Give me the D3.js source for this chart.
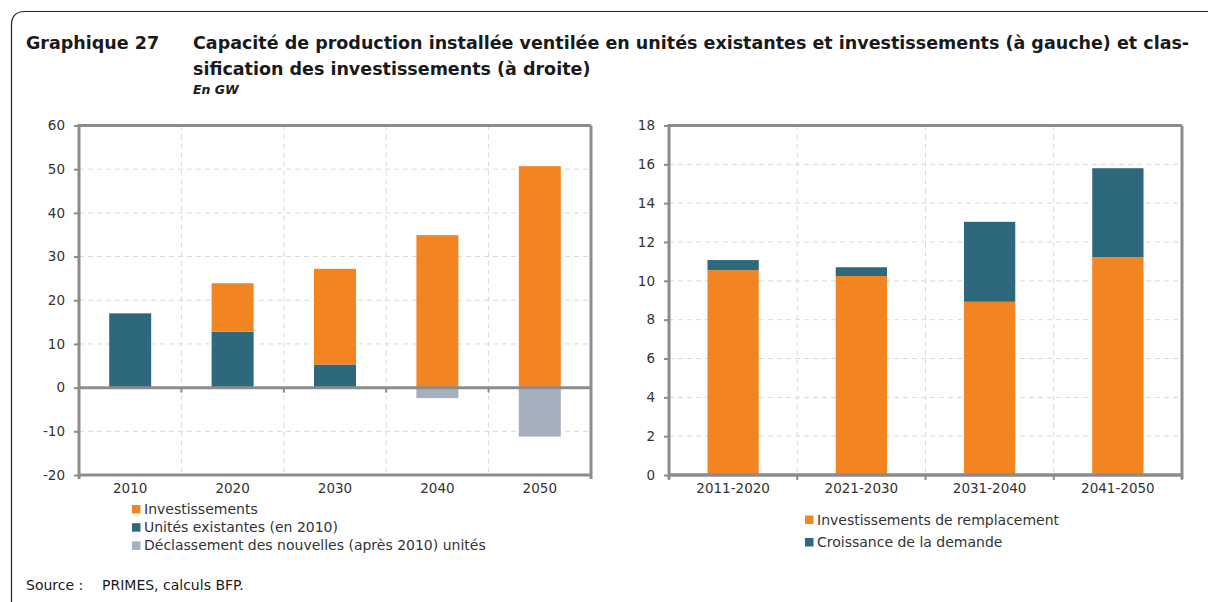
<!DOCTYPE html>
<html><head><meta charset="utf-8">
<script src="https://cdn.jsdelivr.net/npm/d3@7"></script>
<style>
html,body{margin:0;padding:0;background:#fff;}
svg{display:block;font-family:"DejaVu Sans",sans-serif;}
</style></head>
<body>
<svg id="c" width="1208" height="602"></svg>
<script>
// ---- Data ----
const leftCategories = ["2010","2020","2030","2040","2050"];
const leftInvest = [0, 11.1, 21.9, 34.9, 50.7];
const leftExisting = [17.0, 12.8, 5.3, 0, 0];
const leftDecom = [0, 0, 0, -2.4, -11.2];
const leftTicks = [-20,-10,0,10,20,30,40,50,60];
const leftLegend = ["Investissements","Unités existantes (en 2010)","Déclassement des nouvelles (après 2010) unités"];

const rightCategories = ["2011-2020","2021-2030","2031-2040","2041-2050"];
const rightReplacement = [10.55, 10.25, 8.92, 11.22];
const rightDemand = [0.52, 0.45, 4.12, 4.58];
const rightTicks = [0,2,4,6,8,10,12,14,16,18];
const rightLegend = ["Investissements de remplacement","Croissance de la demande"];

const titleLabel = "Graphique 27";
const titleLines = ["Capacité de production installée ventilée en unités existantes et investissements (à gauche) et clas-","sification des investissements (à droite)"];
const subtitle = "En GW";
const sourceLabel = "Source :";
const sourceText = "PRIMES, calculs BFP.";

// ---- Styles ----
const ORANGE = "#F28522", TEAL = "#2E687D", GREYBLUE = "#A5AFBD";
const AXIS = "#8C8C8C", GRID = "#D9D9D9", TXT = "#333333";
const FONT = "'DejaVu Sans',sans-serif";

const svg = d3.select("#c");

// frame
svg.append("path")
  .attr("d", "M11.5,602 L11.5,25 Q11.5,11.5 25,11.5 L1208,11.5")
  .attr("fill","none").attr("stroke","#222").attr("stroke-width",1.2);

// titles
svg.append("text").attr("x",26).attr("y",49).attr("font-weight","bold")
  .attr("font-size",17.5).attr("fill","#1a1a1a").text(titleLabel);
titleLines.forEach((t,i)=>{
  svg.append("text").attr("x",193).attr("y",49+ i*26).attr("font-weight","bold")
    .attr("font-size",17.5).attr("fill","#1a1a1a").text(t);
});
svg.append("text").attr("x",193).attr("y",94).attr("font-weight","bold").attr("font-style","italic")
  .attr("font-size",12.5).attr("fill","#1a1a1a").text(subtitle);

svg.append("text").attr("x",26).attr("y",590).attr("font-size",14).attr("fill","#1a1a1a").text(sourceLabel);
svg.append("text").attr("x",102).attr("y",590).attr("font-size",14).attr("fill","#1a1a1a").text(sourceText);

function drawPanel(opt){
  const g = svg.append("g");
  const x = d3.scaleBand().domain(opt.categories).range([opt.x0,opt.x1]).paddingInner(0).paddingOuter(0);
  const y = d3.scaleLinear().domain(opt.domain).range([opt.y1,opt.y0]);
  const bw = x.bandwidth()*opt.barFrac;

  // horizontal grid
  g.selectAll(".hg").data(opt.ticks.filter(t=>t!==opt.domain[0] && t!==opt.domain[1] && t!==0)).join("line")
    .attr("x1",opt.x0).attr("x2",opt.x1).attr("y1",d=>y(d)).attr("y2",d=>y(d))
    .attr("stroke",GRID).attr("stroke-width",1).attr("stroke-dasharray","5,4");
  // vertical grid at boundaries
  const bounds = opt.categories.slice(1).map(c=>x(c));
  g.selectAll(".vg").data(bounds).join("line")
    .attr("x1",d=>d).attr("x2",d=>d).attr("y1",opt.y0).attr("y2",opt.y1)
    .attr("stroke",GRID).attr("stroke-width",1).attr("stroke-dasharray","5,4");

  // bars
  opt.series.forEach(s=>{
    g.selectAll(null).data(opt.categories).join("rect")
      .attr("x",c=>x(c)+(x.bandwidth()-bw)/2)
      .attr("width",bw)
      .attr("y",(c,i)=>Math.min(y(s.base(i)),y(s.base(i)+s.values[i])))
      .attr("height",(c,i)=>Math.abs(y(s.base(i)+s.values[i])-y(s.base(i))))
      .attr("fill",s.color);
  });

  // frame of plot
  g.append("line").attr("x1",opt.x0).attr("x2",opt.x1).attr("y1",opt.y0).attr("y2",opt.y0)
    .attr("stroke",AXIS).attr("stroke-width",3);
  g.append("line").attr("x1",opt.x1).attr("x2",opt.x1).attr("y1",opt.y0).attr("y2",opt.y1+4)
    .attr("stroke",AXIS).attr("stroke-width",3);
  g.append("line").attr("x1",opt.x0).attr("x2",opt.x1).attr("y1",opt.y1).attr("y2",opt.y1)
    .attr("stroke",AXIS).attr("stroke-width",3);
  // zero line
  g.append("line").attr("x1",opt.x0).attr("x2",opt.x1).attr("y1",y(0)).attr("y2",y(0))
    .attr("stroke",AXIS).attr("stroke-width",3);
  // ticks at category boundaries below zero line
  g.selectAll(".ct").data([opt.x0,...bounds,opt.x1]).join("line")
    .attr("x1",d=>d).attr("x2",d=>d).attr("y1",y(0)).attr("y2",y(0)+5)
    .attr("stroke",AXIS).attr("stroke-width",2);

  // y axis
  const ax = d3.axisLeft(y).tickValues(opt.ticks).tickFormat(d=>String(d)).tickSize(5).tickPadding(9);
  const ag = g.append("g").attr("transform",`translate(${opt.x0},0)`).call(ax);
  ag.select(".domain").remove();
  ag.append("line").attr("x1",0).attr("x2",0).attr("y1",opt.y0-1.5).attr("y2",opt.y1+4)
    .attr("stroke",AXIS).attr("stroke-width",3);
  ag.selectAll(".tick line").attr("stroke",AXIS).attr("stroke-width",2);
  ag.selectAll(".tick text").attr("fill",TXT).attr("font-size",13.5)
    .attr("font-family",FONT);

  // x labels
  g.selectAll(".xl").data(opt.categories).join("text")
    .attr("x",c=>x(c)+x.bandwidth()/2).attr("y",opt.y1+18)
    .attr("text-anchor","middle").attr("font-size",13.5).attr("fill",TXT).text(c=>c);

  // legend
  opt.legend.forEach((l,i)=>{
    const ly = opt.legY + i*opt.legDy;
    g.append("rect").attr("x",opt.legX).attr("y",ly-4).attr("width",8.5).attr("height",8.5).attr("fill",opt.legColors[i]);
    g.append("text").attr("x",opt.legX+12).attr("y",ly+5).attr("font-size",14).attr("fill",TXT).text(l);
  });
}

drawPanel({
  categories:leftCategories, x0:79, x1:591, y0:125.5, y1:475, domain:[-20,60], ticks:leftTicks, barFrac:0.41,
  series:[
    {values:leftExisting, color:TEAL, base:i=>0},
    {values:leftInvest, color:ORANGE, base:i=>leftExisting[i]},
    {values:leftDecom, color:GREYBLUE, base:i=>0}
  ],
  legend:leftLegend, legColors:[ORANGE,TEAL,GREYBLUE], legX:132, legY:509, legDy:18.2
});

drawPanel({
  categories:rightCategories, x0:669, x1:1182, y0:125.5, y1:475, domain:[0,18], ticks:rightTicks, barFrac:0.4,
  series:[
    {values:rightReplacement, color:ORANGE, base:i=>0},
    {values:rightDemand, color:TEAL, base:i=>rightReplacement[i]}
  ],
  legend:rightLegend, legColors:[ORANGE,TEAL], legX:805, legY:519.5, legDy:22.5
});
</script>
</body></html>
